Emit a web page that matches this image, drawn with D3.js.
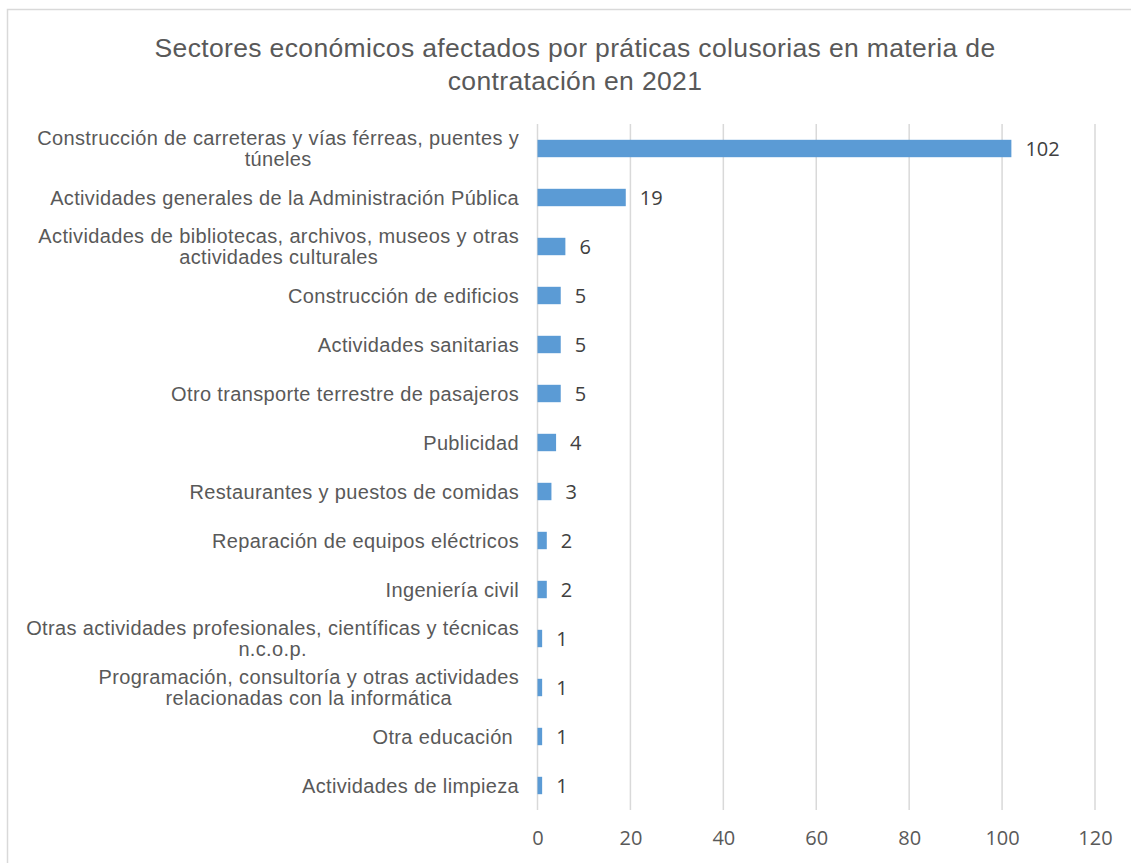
<!DOCTYPE html>
<html>
<head>
<meta charset="utf-8">
<script src="https://cdn.jsdelivr.net/npm/d3@7"></script>
<style>
  body { margin: 0; background: #fff; }
  svg { display: block; }
</style>
</head>
<body>
<svg></svg>
<script>
const width = 1131
const height = 863

// data, top to bottom
const categories = [
	['Construcción de carreteras y vías férreas, puentes y', 'túneles'],
	['Actividades generales de la Administración Pública'],
	['Actividades de bibliotecas, archivos, museos y otras', 'actividades culturales'],
	['Construcción de edificios'],
	['Actividades sanitarias'],
	['Otro transporte terrestre de pasajeros'],
	['Publicidad'],
	['Restaurantes y puestos de comidas'],
	['Reparación de equipos eléctricos'],
	['Ingeniería civil'],
	['Otras actividades profesionales, científicas y técnicas', 'n.c.o.p.'],
	['Programación, consultoría y otras actividades', 'relacionadas con la informática'],
	['Otra educación '],
	['Actividades de limpieza']
]
const values = [102, 19, 6, 5, 5, 5, 4, 3, 2, 2, 1, 1, 1, 1]
const ticks = [0, 20, 40, 60, 80, 100, 120]
const title = ['Sectores económicos afectados por práticas colusorias en materia de', 'contratación en 2021']

const margin = { top: 124, right: 36, bottom: 53, left: 537.5 }
const labelRight = 519

const svg = d3.select('svg')
	.attr('width', width)
	.attr('height', height)

// chart frame
svg.append('rect')
	.attr('x', 7.5)
	.attr('y', 9.5)
	.attr('width', 1200)
	.attr('height', 1000)
	.attr('fill', 'none')
	.attr('stroke', '#d9d9d9')
	.attr('stroke-width', 1.5)

svg.append('text')
	.attr('text-anchor', 'middle')
	.attr('font-family', 'Liberation Sans, Arial, sans-serif')
	.attr('font-size', 26.5)
	.attr('letter-spacing', 0.35)
	.attr('fill', '#595959')
	.selectAll('tspan')
	.data(title)
	.enter()
	.append('tspan')
	.attr('x', 575)
	.attr('y', (d, i) => 57 + i * 33)
	.text(d => d)

const x = d3.scaleLinear()
	.domain([0, 120])
	.range([margin.left, width - margin.right])

const y = d3.scaleBand()
	.domain(d3.range(categories.length))
	.range([margin.top, height - margin.bottom])
	.paddingInner(0.645)
	.paddingOuter(0.3225)

// gridlines
svg.append('g')
	.selectAll('line')
	.data(ticks)
	.enter()
	.append('line')
	.attr('x1', d => x(d))
	.attr('x2', d => x(d))
	.attr('y1', margin.top)
	.attr('y2', height - margin.bottom)
	.attr('stroke', '#d9d9d9')
	.attr('stroke-width', 1.5)

// x axis labels
const xAxis = svg.append('g')
	.attr('transform', `translate(0,${height - margin.bottom})`)
	.call(d3.axisBottom(x).tickValues(ticks).tickSize(0).tickPadding(21))
xAxis.select('.domain').remove()
xAxis.selectAll('text')
	.attr('font-family', 'Open Sans, Liberation Sans, sans-serif')
	.attr('font-size', 20)
	.attr('fill', '#595959')

// bars
svg.append('g')
	.selectAll('rect')
	.data(values)
	.enter()
	.append('rect')
	.attr('x', x(0))
	.attr('y', (d, i) => y(i))
	.attr('width', d => x(d) - x(0))
	.attr('height', y.bandwidth())
	.attr('fill', '#5b9bd5')

// value labels
svg.append('g')
	.selectAll('text')
	.data(values)
	.enter()
	.append('text')
	.attr('x', d => x(d) + 14)
	.attr('y', (d, i) => y(i) + y.bandwidth() / 2)
	.attr('dy', '0.36em')
	.attr('font-family', 'Open Sans, Liberation Sans, sans-serif')
	.attr('font-size', 20)
	.attr('fill', '#404040')
	.text(d => d)

// category labels: block right-aligned, lines centred within it
const labels = svg.append('g')
	.selectAll('text')
	.data(categories)
	.enter()
	.append('text')
	.attr('text-anchor', 'middle')
	.attr('font-family', 'Liberation Sans, Arial, sans-serif')
	.attr('font-size', 20)
	.attr('letter-spacing', 0.35)
	.attr('fill', '#595959')
	.style('white-space', 'pre')
	.attr('transform', (d, i) => `translate(0,${y(i) + y.bandwidth() / 2})`)

labels.selectAll('tspan')
	.data(d => d.map((t, j) => ({ t, j, n: d.length })))
	.enter()
	.append('tspan')
	.attr('y', d => (d.j - (d.n - 1) / 2) * 21 + 7)
	.text(d => d.t)

labels.each(function () {
	const spans = d3.select(this).selectAll('tspan')
	let w = 0
	spans.each(function () { w = Math.max(w, this.getComputedTextLength()) })
	spans.attr('x', labelRight - w / 2)
})
</script>
</body>
</html>
